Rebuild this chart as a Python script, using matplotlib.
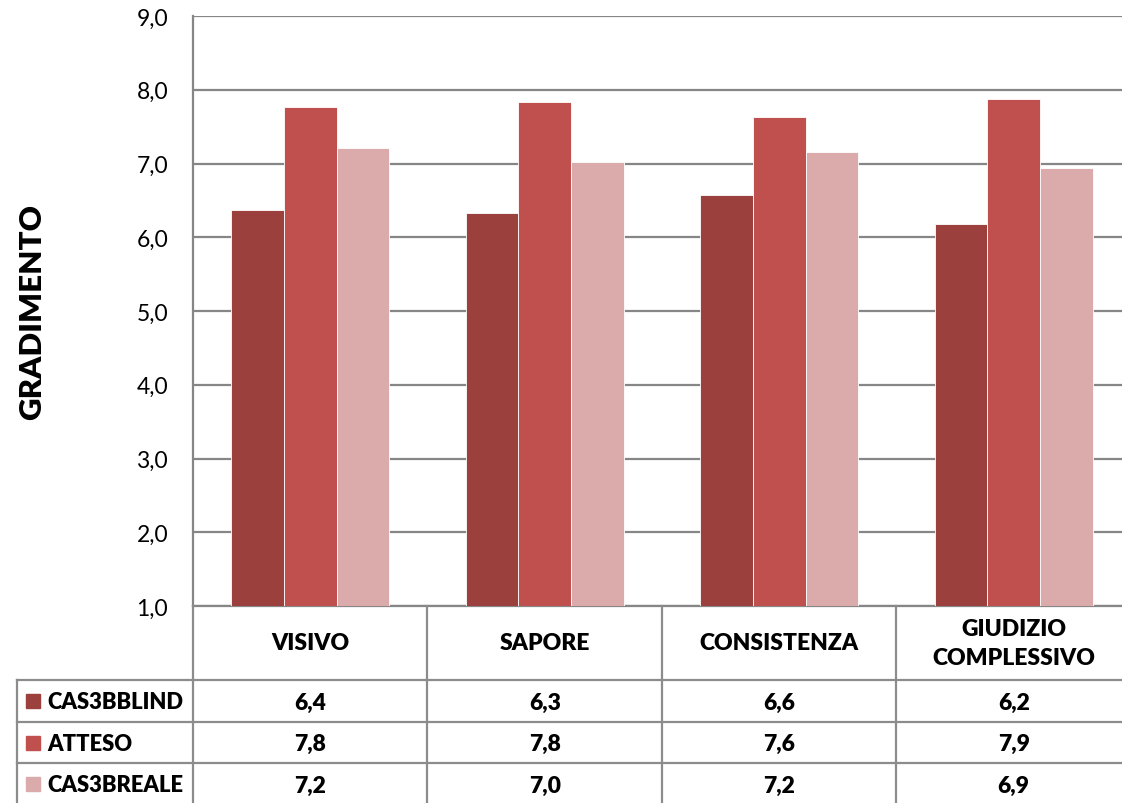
import matplotlib.pyplot as plt
import numpy as np

# dati
categorie = ["VISIVO", "SAPORE", "CONSISTENZA", "GIUDIZIO\nCOMPLESSIVO"]
serie = ["CAS3BBLIND", "ATTESO", "CAS3BREALE"]
blind = [6.37, 6.33, 6.57, 6.18]
atteso = [7.77, 7.84, 7.63, 7.88]
reale = [7.21, 7.02, 7.16, 6.94]
valori = [blind, atteso, reale]
colori = ["#9C403E", "#C0504D", "#DBABAB"]
yticks = [1, 2, 3, 4, 5, 6, 7, 8, 9]

plt.rcParams['font.family'] = ['Lato', 'DejaVu Sans']

W, H = 1122, 804
fig = plt.figure(figsize=(W / 100, H / 100), dpi=100)

def px(x0, y0, x1, y1):
    # rettangolo in pixel -> coordinate figura
    return [x0 / W, 1 - y1 / H, (x1 - x0) / W, (y1 - y0) / H]

# area del grafico (il bordo destro esce dall'immagine come nell'originale)
sx, dx, top, bot = 193, 1131, 17, 607
ax = fig.add_axes(px(sx, top, dx, bot))
x = np.arange(len(categorie))
bw = 0.224
for k, (vals, col) in enumerate(zip(valori, colori)):
    ax.bar(x + (k - 1) * bw, vals, bw, color=col, edgecolor='white',
           linewidth=0.6, zorder=3)
ax.set_xlim(-0.5, len(categorie) - 0.5)
ax.set_ylim(1, 9)
ax.set_yticks(yticks)
ax.set_yticklabels([f"{v:.1f}".replace('.', ',') for v in yticks])
ax.set_xticks([])
ax.yaxis.grid(True, color='#868686', lw=1.6, zorder=0)
ax.tick_params(axis='y', length=0, labelsize=16.5, pad=18)
for s in ['top', 'right']:
    ax.spines[s].set_visible(False)
for s in ['left', 'bottom']:
    ax.spines[s].set_color('#868686')
    ax.spines[s].set_linewidth(1.6)
fig.text(32 / W, 1 - 312 / H, "GRADIMENTO", rotation=90, fontsize=22.5,
         fontweight='heavy', ha='center', va='center')

# tabella dati sotto il grafico
tb = fig.add_axes([0, 0, 1, 1])
tb.set_xlim(0, W)
tb.set_ylim(H, 0)
tb.axis('off')
lc = dict(color='#8C8C8C', lw=1.6)
cw = (dx - sx) / len(categorie)
righe = [681, 723, 764, 806]
xleft = 17
for i in range(len(categorie) + 1):
    tb.plot([sx + i * cw] * 2, [bot, righe[-1]], **lc)
tb.plot([xleft, xleft], [righe[0], righe[-1]], **lc)
for r in righe[:-1]:
    tb.plot([xleft, dx], [r, r], **lc)

for i, cat in enumerate(categorie):
    cx = sx + (i + 0.5) * cw
    tb.text(cx, (bot + righe[0]) / 2, cat, ha='center', va='center',
            fontsize=16.5, fontweight='heavy', linespacing=1.45)
    for j, vals in enumerate(valori):
        tb.text(cx, (righe[j] + righe[j + 1]) / 2 + 1,
                f"{vals[i]:.1f}".replace('.', ','), ha='center', va='center',
                fontsize=16.5, fontweight='heavy')

for j, (nome, col) in enumerate(zip(serie, colori)):
    cy = (righe[j] + righe[j + 1]) / 2
    tb.add_patch(plt.Rectangle((26, cy - 7), 14, 14, color=col))
    tb.text(47, cy + 1, nome, ha='left', va='center', fontsize=15.8,
            fontweight='heavy')

fig.savefig("out.png", dpi=100)
